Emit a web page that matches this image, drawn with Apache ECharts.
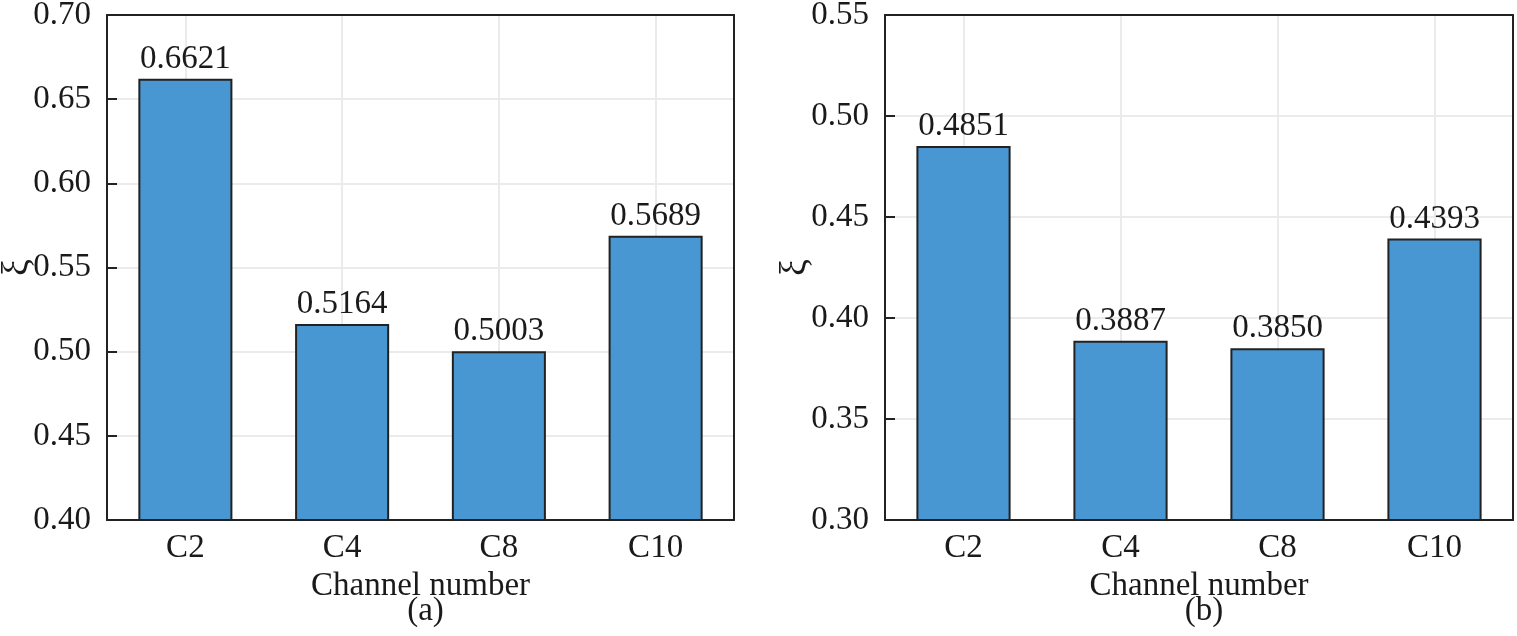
<!DOCTYPE html>
<html><head><meta charset="utf-8">
<script src="https://cdn.jsdelivr.net/npm/echarts@6/dist/echarts.min.js"></script>
<style>html,body{margin:0;padding:0;background:#fff}#c{width:1517px;height:636px}</style>
</head><body><div id="c"></div>
<script>
const categories = ['C2', 'C4', 'C8', 'C10'];
const valuesA = [0.6621, 0.5164, 0.5003, 0.5689];
const valuesB = [0.4851, 0.3887, 0.3850, 0.4393];
const yTicksA = [0.40, 0.45, 0.50, 0.55, 0.60, 0.65, 0.70];
const yTicksB = [0.30, 0.35, 0.40, 0.45, 0.50, 0.55];
const panelLabels = ['(a)', '(b)'];

const FONT = 'Liberation Serif';
const TXT = '#1a1a1a';
const grids = [
  {left: 107, top: 15, width: 627, height: 505, outerBoundsMode: 'none', containLabel: false},
  {left: 885, top: 15, width: 628, height: 505, outerBoundsMode: 'none', containLabel: false}
];
function xAxis(i){
  return {
    type: 'category', gridIndex: i, data: categories,
    name: 'Channel number', nameLocation: 'middle', nameGap: 38,
    nameTextStyle: {fontFamily: FONT, fontSize: 33, color: TXT},
    axisLine: {lineStyle: {color: '#222', width: 2}},
    axisTick: {show: false, alignWithLabel: true},
    splitLine: {show: true, alignWithLabel: true, lineStyle: {color: '#ebebeb', width: 2}},
    axisLabel: {fontFamily: FONT, fontSize: 33, color: TXT, margin: 12}
  };
}
function xAxisTop(i){
  return {
    type: 'category', gridIndex: i, data: categories, position: 'top', z: 5,
    axisLine: {show: true, lineStyle: {color: '#222', width: 2}},
    axisTick: {show: false}, axisLabel: {show: false}, splitLine: {show: false}
  };
}
function yAxis(i, ticks){
  return {
    type: 'value', gridIndex: i, min: ticks[0], max: ticks[ticks.length-1], interval: 0.05,
    name: 'ξ', nameLocation: 'middle', nameGap: 70, nameRotate: 90, nameMoveOverlap: false,
    nameTextStyle: {fontFamily: FONT, fontSize: 38, color: TXT},
    axisLine: {show: true, lineStyle: {color: '#222', width: 2}},
    axisTick: {show: true, inside: true, length: 10, lineStyle: {color: '#222', width: 2}},
    splitLine: {show: true, lineStyle: {color: '#ebebeb', width: 2}},
    axisLabel: {fontFamily: FONT, fontSize: 33, color: TXT, margin: 16,
      formatter: v => v.toFixed(2)}
  };
}
function yAxisRight(i, ticks){
  return {
    type: 'value', gridIndex: i, position: 'right', z: 5,
    min: ticks[0], max: ticks[ticks.length-1], interval: 0.05,
    axisLine: {show: true, lineStyle: {color: '#222', width: 2}},
    axisTick: {show: false}, axisLabel: {show: false}, splitLine: {show: false}
  };
}
function series(i, vals){
  return {
    type: 'bar', xAxisIndex: i, yAxisIndex: i, data: vals, barWidth: '60%',
    itemStyle: {color: '#4897d3', borderColor: '#222', borderWidth: 2},
    label: {show: true, position: 'top', distance: 3, fontFamily: FONT, fontSize: 33, color: TXT,
      formatter: p => p.value.toFixed(4)}
  };
}
const chart = echarts.init(document.getElementById('c'));
chart.setOption({
  animation: false,
  grid: grids,
  xAxis: [xAxis(0), xAxis(1), xAxisTop(0), xAxisTop(1)],
  yAxis: [yAxis(0, yTicksA), yAxis(1, yTicksB), yAxisRight(0, yTicksA), yAxisRight(1, yTicksB)],
  series: [series(0, valuesA), series(1, valuesB)],
  title: panelLabels.map((t, i) => ({
    text: t, left: grids[i].left + grids[i].width/2, top: 590, textAlign: 'center',
    textStyle: {fontFamily: FONT, fontSize: 33, fontWeight: 'normal', color: TXT}
  }))
});
</script></body></html>
